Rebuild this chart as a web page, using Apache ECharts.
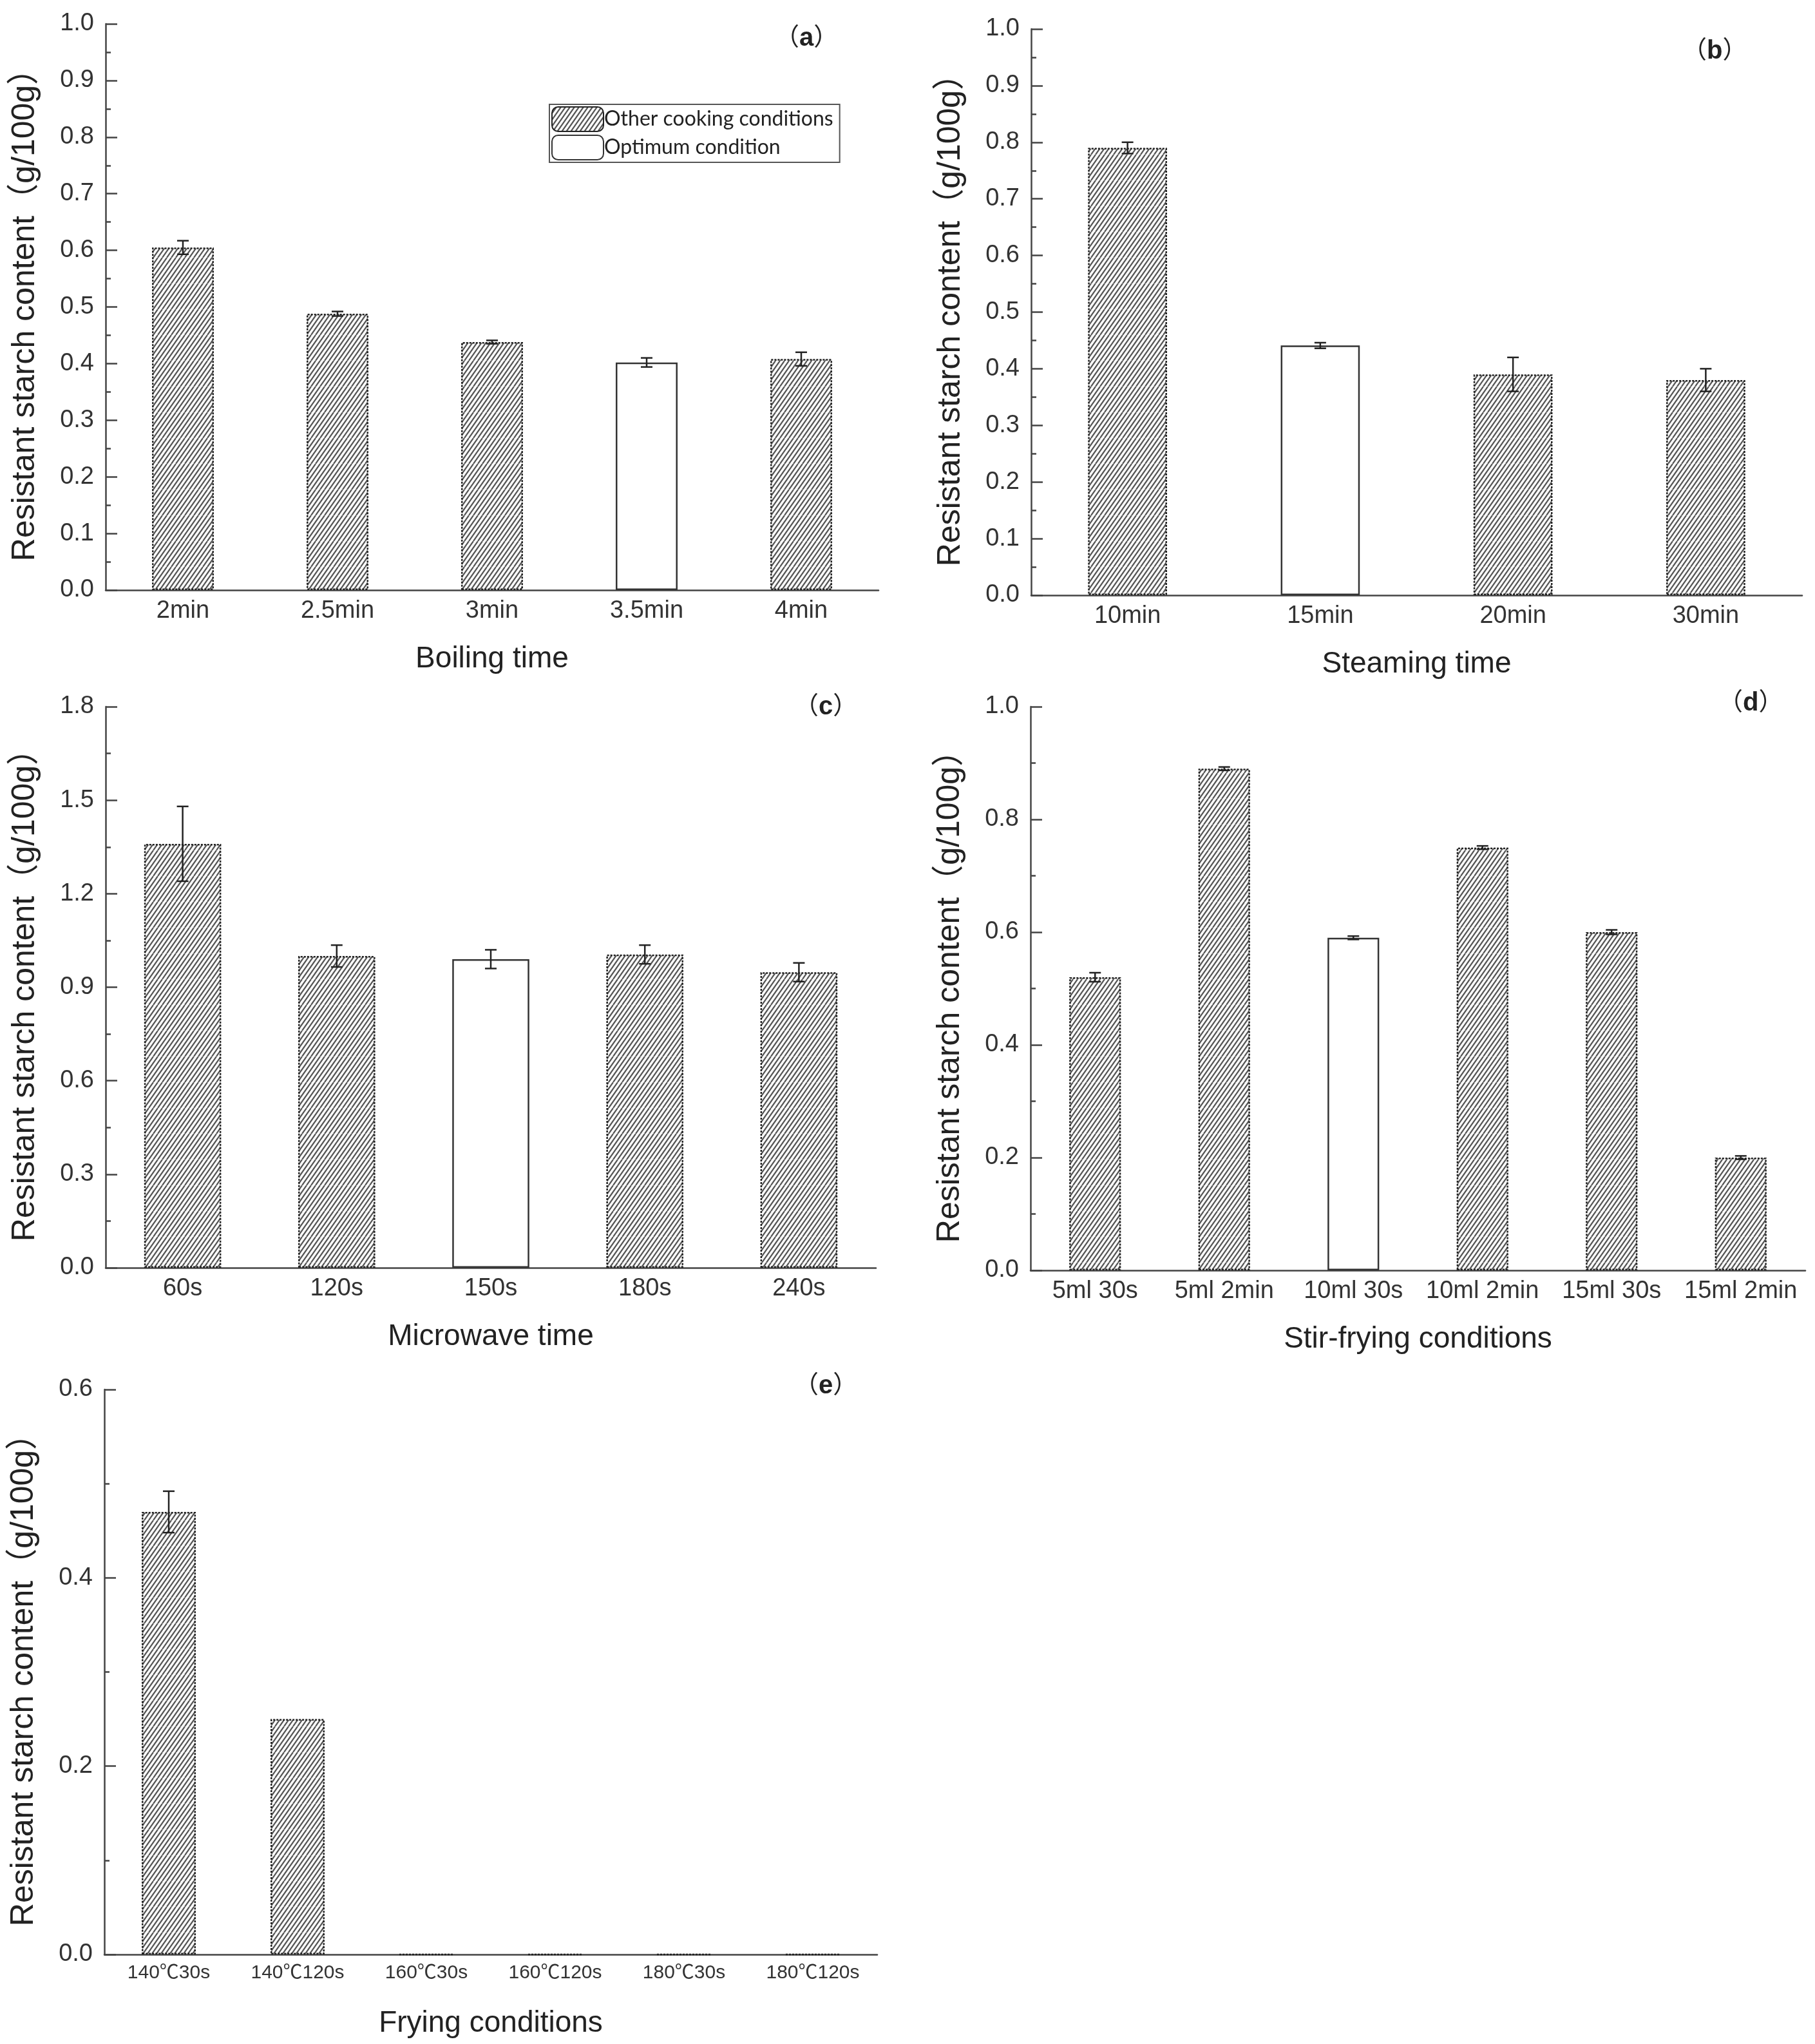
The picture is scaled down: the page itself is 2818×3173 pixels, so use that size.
<!DOCTYPE html>
<html>
<head>
<meta charset="utf-8">
<title>Resistant starch content</title>
<script src="https://cdn.jsdelivr.net/npm/echarts@6/dist/echarts.min.js"></script>
<style>
  html, body { margin: 0; padding: 0; background: #fff; }
  #box { width: 2818px; height: 3173px; }
</style>
</head>
<body>
<div id="box"></div>
<script>
// (a) boiling
var catsA = ['2min', '2.5min', '3min', '3.5min', '4min']
var valsA = [0.605, 0.488, 0.438, 0.402, 0.408]
var errA = [0.012, 0.004, 0.003, 0.008, 0.012]
var optA = 3
// (b) steaming
var catsB = ['10min', '15min', '20min', '30min']
var valsB = [0.79, 0.441, 0.39, 0.38]
var errB = [0.01, 0.005, 0.03, 0.02]
var optB = 1
// (c) microwave
var catsC = ['60s', '120s', '150s', '180s', '240s']
var valsC = [1.36, 1.0, 0.99, 1.005, 0.948]
var errC = [0.12, 0.035, 0.03, 0.03, 0.03]
var optC = 2
// (d) stir-frying
var catsD = ['5ml 30s', '5ml 2min', '10ml 30s', '10ml 2min', '15ml 30s', '15ml 2min']
var valsD = [0.52, 0.89, 0.59, 0.75, 0.6, 0.2]
var errD = [0.008, 0.003, 0.003, 0.003, 0.004, 0.003]
var optD = 2
// (e) frying
var catsE = ['140℃30s', '140℃120s', '160℃30s', '160℃120s', '180℃30s', '180℃120s']
var valsE = [0.47, 0.25, 0, 0, 0, 0]
var errE = [0.022, 0, 0, 0, 0, 0]
var optE = -1

var FONT = "'Liberation Sans', 'Noto Sans CJK SC', sans-serif"
var OTHER = 'Other cooking conditions'
var OPT = 'Optimum condition'
var yTitle = 'Resistant starch content（g/100g）'

// hatch pattern  ///
var cv = document.createElement('canvas')
cv.width = 28
cv.height = 40
var ctx = cv.getContext('2d')
ctx.fillStyle = '#fff'
ctx.fillRect(0, 0, 28, 40)
ctx.strokeStyle = '#555'
ctx.lineWidth = 2.2
for (var k = -6; k < 10; k++) {
  ctx.beginPath()
  ctx.moveTo(k * 7, 40)
  ctx.lineTo(k * 7 + 28, 0)
  ctx.stroke()
}
var hatch = { image: cv, repeat: 'repeat' }

var mCharts = echarts.init(document.querySelector('#box'))

var grids = [], xAxes = [], yAxes = [], series = [], titles = []

function renderErr(params, api) {
  var p1 = api.coord([api.value(0), api.value(1)])
  var p2 = api.coord([api.value(0), api.value(2)])
  var w = 9
  var st = { stroke: '#222', lineWidth: 2.5 }
  return {
    type: 'group',
    children: [
      { type: 'line', shape: { x1: p1[0], y1: p1[1], x2: p1[0], y2: p2[1] }, style: st },
      { type: 'line', shape: { x1: p1[0] - w, y1: p2[1], x2: p1[0] + w, y2: p2[1] }, style: st },
      { type: 'line', shape: { x1: p1[0] - w, y1: p1[1], x2: p1[0] + w, y2: p1[1] }, style: st }
    ]
  }
}

function addPanel(grid, cats, vals, errs, opt, yMax, yInt, barW, xName, labelSize, tag, tagPos) {
  var i = grids.length
  grids.push(grid)
  xAxes.push({
    gridIndex: i,
    type: 'category',
    data: cats,
    name: xName,
    nameLocation: 'middle',
    nameGap: 84,
    nameTextStyle: { fontSize: 46, fontFamily: FONT, color: '#222' },
    axisLine: { lineStyle: { color: '#444', width: 2.5 } },
    axisTick: { show: false },
    axisLabel: { fontSize: labelSize, fontFamily: FONT, color: '#333', margin: 14, interval: 0 }
  })
  yAxes.push({
    gridIndex: i,
    type: 'value',
    min: 0,
    max: yMax,
    interval: yInt,
    name: yTitle,
    nameLocation: 'middle',
    nameGap: 100,
    nameTextStyle: { fontSize: 50, fontFamily: FONT, color: '#222' },
    axisLine: { show: true, lineStyle: { color: '#444', width: 2.5 } },
    axisTick: { show: true, inside: true, length: 18, lineStyle: { color: '#444', width: 2.5 } },
    minorTick: { show: true, splitNumber: 2, length: 8, lineStyle: { color: '#444', width: 2.5 } },
    splitLine: { show: false },
    axisLabel: {
      fontSize: 38, fontFamily: FONT, color: '#333', margin: 18,
      formatter: function (v) { return v.toFixed(1) }
    }
  })
  var other = [], best = [], err = []
  for (var j = 0; j < vals.length; j++) {
    other.push(j === opt ? '-' : vals[j])
    best.push(j === opt ? vals[j] : '-')
    if (errs[j] > 0) err.push([j, vals[j] - errs[j], vals[j] + errs[j]])
  }
  series.push({
    name: OTHER, type: 'bar', xAxisIndex: i, yAxisIndex: i,
    barWidth: barW, barGap: '-100%', data: other,
    itemStyle: { color: hatch, borderColor: '#222', borderWidth: 2.5, borderType: [3, 2] }
  })
  series.push({
    name: OPT, type: 'bar', xAxisIndex: i, yAxisIndex: i,
    barWidth: barW, barGap: '-100%', data: best,
    itemStyle: { color: '#fff', borderColor: '#333', borderWidth: 2.5 }
  })
  series.push({
    type: 'custom', xAxisIndex: i, yAxisIndex: i, z: 5,
    renderItem: renderErr, data: err
  })
  titles.push({
    text: '（{b|' + tag + '}）',
    left: tagPos[0], top: tagPos[1],
    textStyle: {
      fontSize: 38, fontFamily: FONT, color: '#222', fontWeight: 'normal',
      rich: { b: { fontSize: 40, fontFamily: FONT, color: '#222', fontWeight: 'bold' } }
    }
  })
}

addPanel({ left: 164, top: 37, width: 1200, height: 879 }, catsA, valsA, errA, optA, 1.0, 0.1, '40%', 'Boiling time', 38, 'a', [1198, 35])
addPanel({ left: 1601, top: 45, width: 1197, height: 879 }, catsB, valsB, errB, optB, 1.0, 0.1, '41%', 'Steaming time', 38, 'b', [2607, 55])
addPanel({ left: 164, top: 1097, width: 1196, height: 871 }, catsC, valsC, errC, optC, 1.8, 0.3, '50%', 'Microwave time', 38, 'c', [1228, 1073])
addPanel({ left: 1600, top: 1097, width: 1203, height: 875 }, catsD, valsD, errD, optD, 1.0, 0.2, '40%', 'Stir-frying conditions', 38, 'd', [2663, 1067])
addPanel({ left: 162, top: 2157, width: 1200, height: 877 }, catsE, valsE, errE, optE, 0.6, 0.2, '42%', 'Frying conditions', 30, 'e', [1228, 2127])

var option = {
  animation: false,
  backgroundColor: '#fff',
  title: titles,
  legend: {
    data: [OTHER, OPT],
    orient: 'vertical',
    left: 853,
    top: 162,
    itemWidth: 80,
    itemHeight: 38,
    itemGap: 4,
    padding: [3, 10, 3, 3],
    borderColor: '#555',
    borderWidth: 2,
    selectedMode: false,
    textStyle: { fontSize: 32, fontFamily: 'Lato, sans-serif', color: '#222', padding: [0, 0, 0, -4] }
  },
  grid: grids,
  xAxis: xAxes,
  yAxis: yAxes,
  series: series
}
mCharts.setOption(option)
</script>
</body>
</html>
